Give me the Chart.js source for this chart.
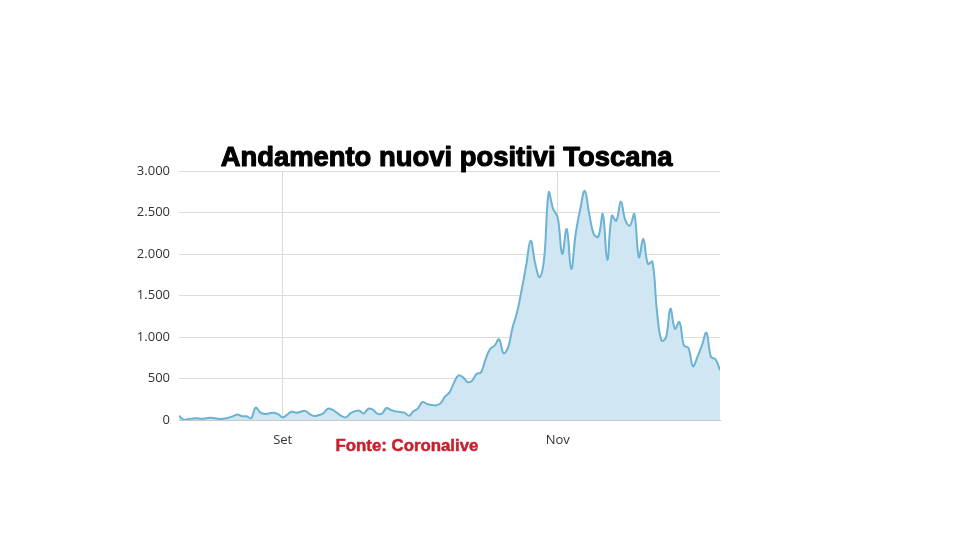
<!DOCTYPE html>
<html>
<head>
<meta charset="utf-8">
<script src="https://cdn.jsdelivr.net/npm/chart.js@4/dist/chart.umd.min.js"></script>
<style>
  html, body { margin: 0; padding: 0; background: #ffffff; }
  #wrap { width: 968px; height: 544px; }
</style>
</head>
<body>
<div id="wrap"><canvas id="c" width="968" height="544"></canvas></div>
<script>
// Daily new positives in Tuscany, one value per day (Aug 9 .. Dec 7)
const newPositives = [
  52, 5, 10, 18, 22, 16, 20, 26, 22, 12,
  18, 28, 45, 66, 45, 45, 22, 150, 92, 72,
  80, 88, 70, 32, 65, 100, 88, 100, 110, 72,
  48, 60, 80, 136, 125, 88, 50, 32, 80, 105,
  112, 80, 136, 125, 76, 76, 144, 120, 104, 96,
  88, 50, 105, 140, 217, 193, 182, 177, 200, 281,
  333, 450, 538, 514, 458, 474, 554, 574, 731, 855,
  896, 972, 803, 875, 1116, 1300, 1566, 1860, 2160, 1888,
  1720, 1950, 2740, 2540, 2440, 2000, 2300, 1820, 2250, 2540,
  2760, 2480, 2240, 2208, 2480, 1928, 2460, 2400, 2632, 2408,
  2340, 2480, 1960, 2180, 1880, 1908, 1320, 960, 990, 1340,
  1100, 1180, 900, 868, 648, 760, 900, 1052, 760, 732,
  600
];
const dayIndex = newPositives.map((_, i) => i);
const xTickDays = [23, 84];          // Sept 1, Nov 1
const xTickLabels = ['Set', 'Nov'];
const yTicks = [0, 500, 1000, 1500, 2000, 2500, 3000];
const titleText = 'Andamento nuovi positivi Toscana';
const sourceText = 'Fonte: Coronalive';

function fmtIt(v) {
  return String(v).replace(/\B(?=(\d{3})+(?!\d))/g, '.');
}

const textPlugin = {
  id: 'texts',
  afterDraw(chart) {
    const ctx = chart.ctx;
    ctx.save();
    // title
    let size = 24;
    ctx.font = 'bold ' + size + 'px "Liberation Sans", Arial, sans-serif';
    let w = ctx.measureText(titleText).width;
    size = size * 452 / w;
    ctx.font = 'bold ' + size.toFixed(2) + 'px "Liberation Sans", Arial, sans-serif';
    ctx.fillStyle = '#000000';
    ctx.textAlign = 'center';
    ctx.textBaseline = 'alphabetic';
    ctx.lineWidth = 1.1;
    ctx.strokeStyle = '#000000';
    ctx.lineJoin = 'round';
    ctx.fillText(titleText, 446.5, 165.5);
    ctx.strokeText(titleText, 446.5, 165.5);
    // source
    let s2 = 15;
    ctx.font = 'bold ' + s2 + 'px "Liberation Sans", Arial, sans-serif';
    w = ctx.measureText(sourceText).width;
    s2 = s2 * 143 / w;
    ctx.font = 'bold ' + s2.toFixed(2) + 'px "Liberation Sans", Arial, sans-serif';
    ctx.fillStyle = '#c8202e';
    ctx.strokeStyle = '#c8202e';
    ctx.lineWidth = 0.5;
    ctx.textAlign = 'left';
    ctx.fillText(sourceText, 335.5, 450.5);
    ctx.strokeText(sourceText, 335.5, 450.5);
    ctx.restore();
  }
};

new Chart(document.getElementById('c'), {
  type: 'line',
  data: {
    labels: dayIndex,
    datasets: [{
      data: newPositives.map((v, i) => ({ x: dayIndex[i], y: v })),
      borderColor: '#6bb2d3',
      backgroundColor: 'rgba(208,230,243,1)',
      borderWidth: 2,
      fill: 'origin',
      pointRadius: 0,
      tension: 0.4
    }]
  },
  options: {
    responsive: false,
    animation: false,
    layout: { padding: { left: 0, right: 248, top: 171, bottom: 94 } },
    plugins: { legend: { display: false }, tooltip: { enabled: false }, title: { display: false } },
    scales: {
      x: {
        type: 'linear',
        min: 0,
        max: newPositives.length - 1,
        afterBuildTicks(scale) {
          scale.ticks = xTickDays.map(v => ({ value: v }));
        },
        afterFit(scale) { scale.height = 30; },
        ticks: {
          autoSkip: false,
          maxRotation: 0,
          padding: 12,
          color: '#333333',
          font: { family: '"Open Sans", sans-serif', size: 13 },
          callback(value) {
            const k = xTickDays.indexOf(value);
            return k >= 0 ? xTickLabels[k] : '';
          }
        },
        grid: { color: '#d8d8d8', lineWidth: 1, drawTicks: false },
        border: { display: true, color: '#c8c8c8' }
      },
      y: {
        min: 0,
        max: 3000,
        afterBuildTicks(scale) {
          scale.ticks = yTicks.map(v => ({ value: v }));
        },
        afterFit(scale) { scale.width = 179; },
        ticks: {
          padding: 9,
          color: '#333333',
          font: { family: '"Open Sans", sans-serif', size: 13 },
          callback(value) { return fmtIt(value); }
        },
        grid: { color: '#dcdcdc', lineWidth: 1, drawTicks: false },
        border: { display: false }
      }
    }
  },
  plugins: [textPlugin]
});
</script>
</body>
</html>
